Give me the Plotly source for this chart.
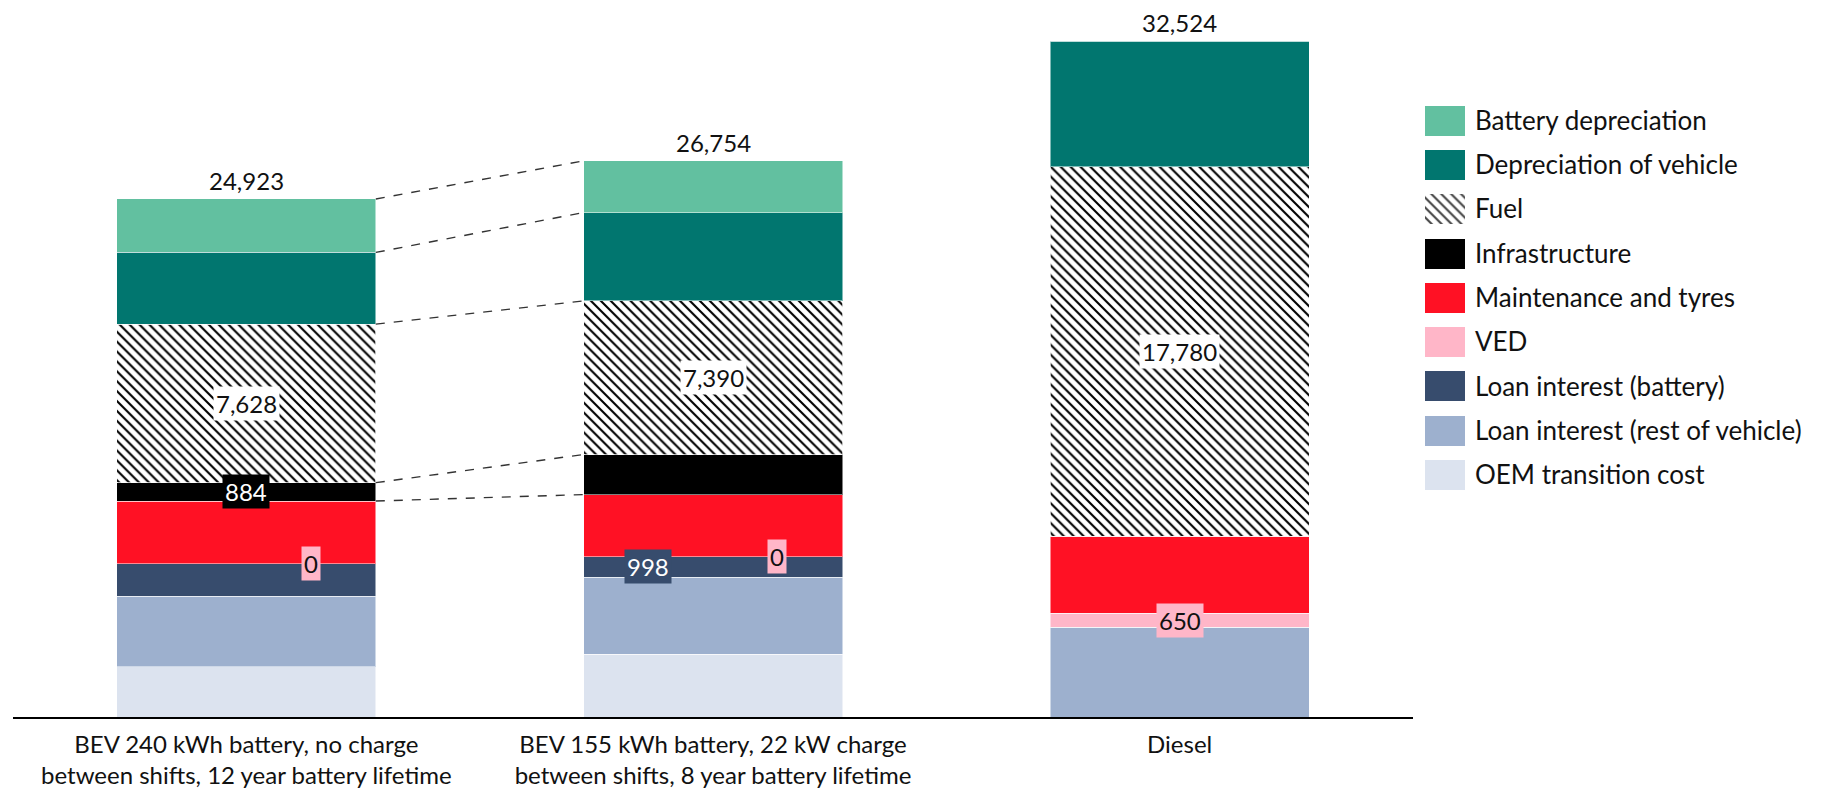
import plotly.graph_objects as go

# ---------------- data ----------------
categories = [
    "BEV 240 kWh battery, no charge<br>between shifts, 12 year battery lifetime",
    "BEV 155 kWh battery, 22 kW charge<br>between shifts, 8 year battery lifetime",
    "Diesel",
]
oem_transition = [2420, 3031, 0]
loan_rest = [3400, 3690, 4330]
loan_battery = [1554, 998, 0]
ved = [0, 0, 650]
maintenance = [3017, 2983, 3720]
infrastructure = [884, 1925, 0]
fuel = [7628, 7390, 17780]
dep_vehicle = [3450, 4253, 6044]
battery_dep = [2570, 2484, 0]

# stack order: bottom -> top
series = [
    ("OEM transition cost", oem_transition, "#DCE3EF"),
    ("Loan interest (rest of vehicle)", loan_rest, "#9DB0CE"),
    ("Loan interest (battery)", loan_battery, "#374C6D"),
    ("VED", ved, "#FFB6C8"),
    ("Maintenance and tyres", maintenance, "#FF1124"),
    ("Infrastructure", infrastructure, "#000000"),
    ("Fuel", fuel, "pattern"),
    ("Depreciation of vehicle", dep_vehicle, "#01766F"),
    ("Battery depreciation", battery_dep, "#62C0A0"),
]

# which segment labels are shown: (series, category index, x offset, bg, text colour)
segment_labels = [
    ("Fuel", 0, 0.0, "white", "#111111"),
    ("Fuel", 1, 0.0, "white", "#111111"),
    ("Fuel", 2, 0.0, "white", "#111111"),
    ("Infrastructure", 0, 0.0, "black", "white"),
    ("VED", 0, 0.138, "#FFB6C8", "#111111"),
    ("VED", 1, 0.138, "#FFB6C8", "#111111"),
    ("VED", 2, 0.0, "#FFB6C8", "#111111"),
    ("Loan interest (battery)", 1, -0.139, "#374C6D", "white"),
]

FONT = "Lato"
FS = 24
LEG_FS = 26
BAR_W = 0.555
PATTERN = dict(shape="\\", fgcolor="black", fgopacity=1, size=7,
               solidity=0.3, fillmode="overlay")
xs = list(range(len(categories)))

fig = go.Figure()

# cumulative bases
bases = {}
running = [0.0] * len(categories)
for name, vals, color in series:
    bases[name] = list(running)
    running = [r + v for r, v in zip(running, vals)]
totals = running

for i, (name, vals, color) in enumerate(series):
    if color == "pattern":
        marker = dict(color="white", pattern=PATTERN,
                      line=dict(width=1, color="rgba(255,255,255,0.7)"))
    else:
        marker = dict(color=color, line=dict(width=1, color="rgba(255,255,255,0.5)"))
    fig.add_trace(go.Bar(
        x=xs, y=vals, name=name, marker=marker, width=BAR_W,
        hoverinfo="skip", showlegend=False,
    ))

# legend drawn as a small swatch chart on its own axes
leg_names = [nm for nm, _, _ in series]
leg_colors = ["white" if c == "pattern" else c for _, _, c in series]
leg_shapes = ["\\" if c == "pattern" else "" for _, _, c in series]
fig.add_trace(go.Bar(
    y=leg_names, x=[1] * len(leg_names), orientation="h",
    xaxis="x2", yaxis="y2", width=30 / 44.3,
    marker=dict(color=leg_colors, line=dict(width=0),
                pattern=dict(PATTERN, shape=leg_shapes)),
    hoverinfo="skip", showlegend=False,
))

# segment labels
vals_by_name = {nm: v for nm, v, c in series}
for name, ci, dx, bg, fc in segment_labels:
    v = vals_by_name[name][ci]
    yc = bases[name][ci] + v / 2
    fig.add_annotation(
        x=xs[ci] + dx, y=yc, text=f"{v:,}", showarrow=False,
        font=dict(family=FONT, size=FS, color=fc),
        bgcolor=bg, borderpad=2, xanchor="center", yanchor="middle",
    )

# totals
for ci, t in enumerate(totals):
    fig.add_annotation(
        x=xs[ci], y=t, text=f"{int(round(t)):,}", showarrow=False,
        font=dict(family=FONT, size=FS, color="#111111"),
        xanchor="center", yanchor="bottom", yshift=2,
    )

# dashed series lines between the first two bars
connect = ["Battery depreciation", "Depreciation of vehicle", "Fuel",
           "Infrastructure", "Maintenance and tyres"]
for name in connect:
    top0 = bases[name][0] + vals_by_name[name][0]
    top1 = bases[name][1] + vals_by_name[name][1]
    fig.add_shape(
        type="line", xref="x", yref="y",
        x0=xs[0] + BAR_W / 2, x1=xs[1] - BAR_W / 2, y0=top0, y1=top1,
        line=dict(color="#333333", width=1.4, dash="dash"),
    )

W, H = 1826, 791
ML, MR, MT, MB = 13, 0, 10, 74
PW = W - ML - MR
PH = H - MT - MB
main_right = 1400 / PW
sw_left, sw_right = (1425 - ML) / PW, (1465 - ML) / PW
leg_top_px, leg_bot_px = 98.5, 497.2
leg_dom = [(H - MB - leg_bot_px) / PH, (H - MB - leg_top_px) / PH]

fig.update_layout(
    barmode="stack",
    width=W, height=H,
    margin=dict(l=ML, r=MR, t=MT, b=MB, autoexpand=False),
    plot_bgcolor="white", paper_bgcolor="white",
    font=dict(family=FONT, size=FS, color="#111111"),
    showlegend=False,
    xaxis=dict(
        domain=[0, main_right],
        range=[-0.5, 2.5], tickvals=xs, ticktext=categories,
        showline=True, linecolor="black", linewidth=2,
        showgrid=False, zeroline=False, ticks="",
        tickfont=dict(family=FONT, size=FS, color="#111111"),
        ticklabelstandoff=5, fixedrange=True, automargin=False,
    ),
    yaxis=dict(
        range=[0, 34016], visible=False, showgrid=False, zeroline=False,
        fixedrange=True, automargin=False,
    ),
    xaxis2=dict(
        domain=[sw_left, sw_right], anchor="y2", range=[0, 1],
        visible=False, fixedrange=True, automargin=False,
    ),
    yaxis2=dict(
        domain=leg_dom, anchor="x2", side="right", type="category",
        range=[-0.5, len(leg_names) - 0.5],
        showgrid=False, showline=False, zeroline=False, ticks="",
        tickfont=dict(family=FONT, size=LEG_FS, color="#111111"),
        ticklabelstandoff=9, fixedrange=True, automargin=False,
    ),
)

post = "document.body.style.margin='0';document.body.style.overflow='hidden';"
fig.write_html("out.html", post_script=post,
               config={"displayModeBar": False, "responsive": False})
